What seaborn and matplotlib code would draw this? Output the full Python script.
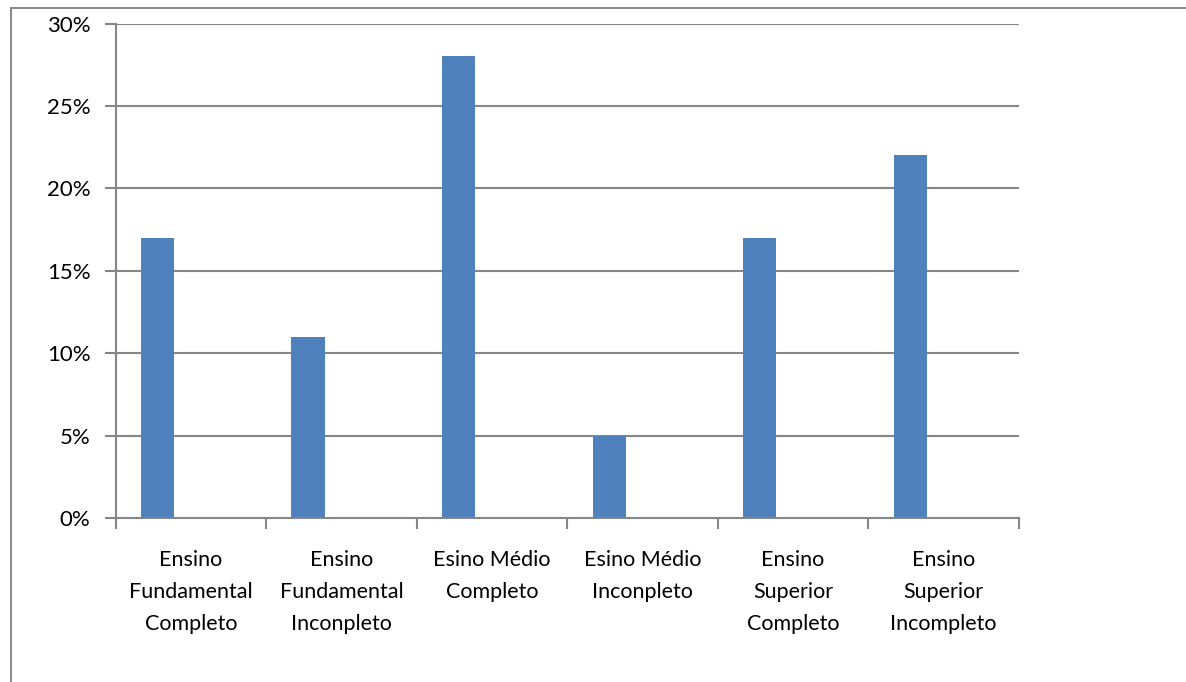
import matplotlib
matplotlib.use("Agg")
import matplotlib.pyplot as plt
from matplotlib.patches import Rectangle
from matplotlib.ticker import PercentFormatter, FixedLocator
import seaborn as sns
import pandas as pd

categories = [
    "Ensino\nFundamental\nCompleto",
    "Ensino\nFundamental\nInconpleto",
    "Esino Médio\nCompleto",
    "Esino Médio\nInconpleto",
    "Ensino\nSuperior\nCompleto",
    "Ensino\nSuperior\nIncompleto",
]
values = [0.17, 0.11, 0.28, 0.05, 0.17, 0.22]
series = ["Série 1", "Série 2", "Série 3"]
y_ticks = [0.0, 0.05, 0.10, 0.15, 0.20, 0.25, 0.30]

sns.set_theme(style="white")
plt.rcParams["font.family"] = ["Lato", "DejaVu Sans"]

# three series slots per category; only the first one holds data
rows = []
for cat, val in zip(categories, values):
    rows.append({"cat": cat, "serie": series[0], "val": val})
    for s in series[1:]:
        rows.append({"cat": cat, "serie": s, "val": 0.0})
df = pd.DataFrame(rows)

fig = plt.figure(figsize=(11.86, 6.82), dpi=100)
fig.patch.set_facecolor("white")
fig.patches.append(Rectangle((10.5 / 1186, -0.1), 1.2, 1 - 7.5 / 682 + 0.1,
                             transform=fig.transFigure, fill=False,
                             edgecolor="#8c8c8c", linewidth=1.5))

ax = fig.add_axes([115.5 / 1186, 1 - 518 / 682, (1019 - 115.5) / 1186, (518 - 23.5) / 682])
blue = "#4f81bd"
sns.barplot(data=df, x="cat", y="val", hue="serie", hue_order=series,
            palette=[blue, blue, blue], saturation=1, width=0.664, dodge=True,
            legend=False, linewidth=0, edgecolor="none", ax=ax, errorbar=None)

ax.set_xlim(-0.5, len(categories) - 0.5)
ax.set_ylim(0, 0.30)
ax.yaxis.set_major_locator(FixedLocator(y_ticks))
ax.yaxis.set_major_formatter(PercentFormatter(1.0, decimals=0))
ax.set_xlabel("")
ax.set_ylabel("")

grid_c = "#868686"
for y in y_ticks[1:]:
    ax.axhline(y, color=grid_c, linewidth=1.5, zorder=0)
ax.set_axisbelow(True)

for side in ["top", "right"]:
    ax.spines[side].set_visible(False)
for side in ["left", "bottom"]:
    ax.spines[side].set_color(grid_c)
    ax.spines[side].set_linewidth(1.5)

# category boundary ticks on the x axis
ax.set_xticks(range(len(categories)))
ax.set_xticklabels(categories, fontsize=15.5, linespacing=1.74, color="black")
ax.xaxis.set_minor_locator(FixedLocator([i - 0.5 for i in range(len(categories) + 1)]))
ax.tick_params(axis="x", which="major", length=0, pad=23)
ax.tick_params(axis="x", which="minor", length=8, width=1.5, color=grid_c, direction="out", bottom=True)
ax.tick_params(axis="y", which="major", length=8, width=1.5, color=grid_c, direction="out",
               left=True, labelsize=16, labelcolor="black", pad=10)

fig.savefig("out.png", dpi=100, facecolor="white")
